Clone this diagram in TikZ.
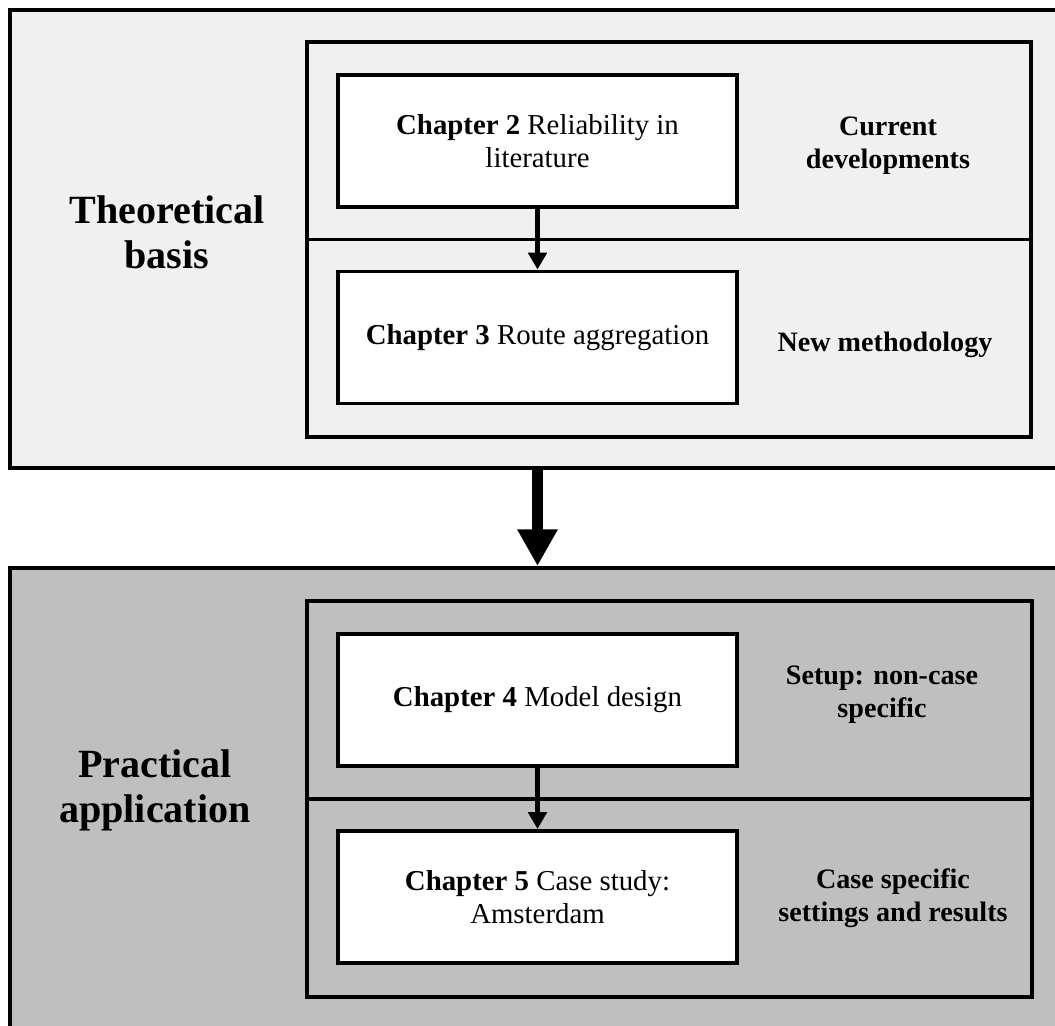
\documentclass[tikz,border=0pt]{standalone}
\usepackage{fontspec}
\setmainfont{Liberation Serif}
\usetikzlibrary{positioning,arrows.meta}
\definecolor{theorygray}{HTML}{F0F0F0}
\definecolor{practicegray}{HTML}{BFBFBF}

\tikzset{
  framebox/.style={draw, line width=2.8pt, inner sep=0pt},
  chapbox/.style={draw, line width=2.8pt, fill=white, minimum width=9.975cm, minimum height=3.3cm,
    align=center, font=\fontsize{20.5}{23}\selectfont},
  sidelabel/.style={align=center, font=\bfseries\fontsize{20}{23.5}\selectfont},
  partlabel/.style={align=center, font=\bfseries\fontsize{28.5}{32}\selectfont},
  smallarrow/.style={line width=3.5pt, -{Triangle[length=12pt,width=13pt]}},
  bigarrow/.style={line width=8.5pt, -{Triangle[length=26pt,width=27pt]}}
}

\begin{document}
\begin{tikzpicture}[x=0.025cm, y=-0.025cm]
            \clip (0,0) rectangle (1055,1026);
            % outer parts
            \node[framebox, fill=theorygray, minimum width=27.25cm, minimum height=11.45cm] (theory) at (555,239) {};
            \node[framebox, fill=practicegray, minimum width=27.25cm, minimum height=12.8cm] (practice) at (555,824) {};
            % inner frames
            \node[framebox, minimum width=18.1cm, minimum height=9.875cm] (theoryframe) at (669,239.5) {};
            \draw[line width=2.8pt] (theoryframe.west) -- (theoryframe.east);
            \node[framebox, minimum width=18.125cm, minimum height=9.9cm] (practiceframe) at (669.5,799) {};
            \draw[line width=2.8pt] (practiceframe.west) -- (practiceframe.east);
            % chapters
            \node[chapbox] (ch2) at (537.5,141) {\textbf{Chapter 2} Reliability in\\literature};
            \node[chapbox] (ch3) at (537.5,337.5) {\textbf{Chapter 3} Route aggregation};
            \node[chapbox] (ch4) at (537.5,700) {\textbf{Chapter 4} Model design};
            \node[chapbox] (ch5) at (537.5,897) {\textbf{Chapter 5} Case study:\\Amsterdam};
            % labels
            \node[partlabel] (theorylabel) at (167,232) {Theoretical\\basis};
            \node[partlabel] (practicelabel) at (155,790) {Practical\\application};
            \node[sidelabel] (currentlabel) at (888,146) {Current\\developments};
            \node[sidelabel] (newlabel) at (885,345) {New methodology};
            \node[sidelabel] (setuplabel) at (882,695) {Setup: non-case\\specific};
            \node[sidelabel] (caselabel) at (893,898) {Case specific\\settings and results};
            % arrows
            \draw[smallarrow] (ch2) -- (ch3);
            \draw[smallarrow] (ch4) -- (ch5);
            \draw[bigarrow] (ch3.south |- theory.south) -- (ch4.north |- practice.north);
\end{tikzpicture}
\end{document}
